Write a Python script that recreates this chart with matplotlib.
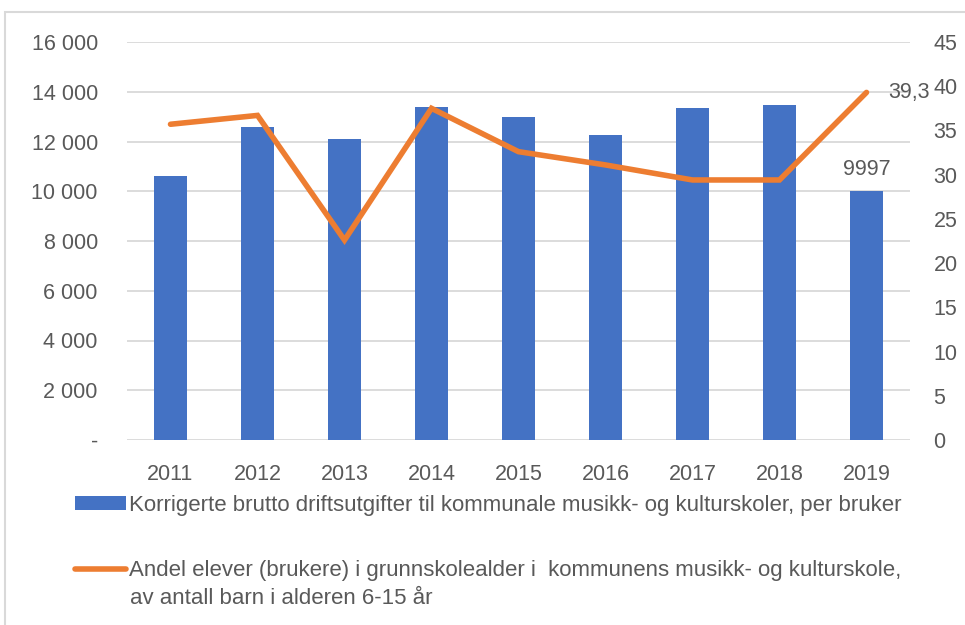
import numpy as np
import matplotlib.pyplot as plt
from matplotlib.ticker import FuncFormatter
from matplotlib.patches import Rectangle

years = ["2011", "2012", "2013", "2014", "2015", "2016", "2017", "2018", "2019"]
utgifter = [10600, 12580, 12100, 13390, 12980, 12260, 13350, 13470, 9997]
andel = [35.7, 36.7, 22.6, 37.5, 32.6, 31.1, 29.4, 29.4, 39.3]

bar_label = "Korrigerte brutto driftsutgifter til kommunale musikk- og kulturskoler, per bruker"
line_label_1 = "Andel elever (brukere) i grunnskolealder i  kommunens musikk- og kulturskole,"
line_label_2 = "av antall barn i alderen 6-15 år"

plt.rcParams['font.family'] = ['Liberation Sans', 'DejaVu Sans']
txt = '#595959'
blue = '#4472C4'
orange = '#ED7D31'
fs = 15.5

fig = plt.figure(figsize=(9.65, 6.25), dpi=100)
# outer chart border
fig.patches.append(Rectangle((5 / 965, -0.1), 1.2, (625 - 12) / 625 + 0.1,
                             transform=fig.transFigure, fill=False,
                             edgecolor='#D9D9D9', linewidth=1.5))

ax = fig.add_axes([127 / 965, 1 - 440 / 625, (910 - 127) / 965, (440 - 42) / 625])
x = np.arange(len(years))
bars = ax.bar(x, utgifter, width=0.39, color=blue, zorder=2)
ax.set_ylim(0, 16000)
ax.set_xlim(-0.5, len(years) - 0.5)
ax.set_yticks(np.arange(0, 16001, 2000))
ax.yaxis.set_major_formatter(FuncFormatter(
    lambda v, p: '-' if v == 0 else f"{int(v):,}".replace(',', ' ')))
ax.set_xticks(x)
ax.set_xticklabels(years)
ax.grid(axis='y', color='#D9D9D9', linewidth=1.3, zorder=0)
ax.set_axisbelow(True)
for s in ax.spines.values():
    s.set_visible(False)
ax.tick_params(axis='both', length=0, labelsize=fs, colors=txt)
ax.tick_params(axis='y', pad=21)
ax.tick_params(axis='x', pad=17)
ax.text(x[-1], utgifter[-1] + 450, f"{utgifter[-1]}", ha='center', va='bottom',
        fontsize=fs, color=txt)

ax2 = ax.twinx()
line, = ax2.plot(x, andel, color=orange, linewidth=4, solid_capstyle='round',
                 solid_joinstyle='miter', zorder=3)
ax2.set_ylim(0, 45)
ax2.set_yticks(np.arange(0, 46, 5))
for s in ax2.spines.values():
    s.set_visible(False)
ax2.tick_params(axis='y', length=0, labelsize=fs, colors=txt, pad=17)
ax2.text(x[-1] + 0.25, andel[-1], str(andel[-1]).replace('.', ','), ha='left',
         va='center', fontsize=fs, color=txt)

fig.legend([bars, line], [bar_label, line_label_1], loc='upper left',
           bbox_to_anchor=(75 / 965, 1 - 495 / 625), frameon=False,
           fontsize=16, labelcolor=txt, handlelength=2.3, handletextpad=0.15,
           labelspacing=2.0, borderpad=0, borderaxespad=0, handleheight=0.6)
fig.text(130 / 965, 1 - 598 / 625, line_label_2, ha='left', va='center',
         fontsize=16, color=txt)

fig.savefig('out.png', dpi=100)
